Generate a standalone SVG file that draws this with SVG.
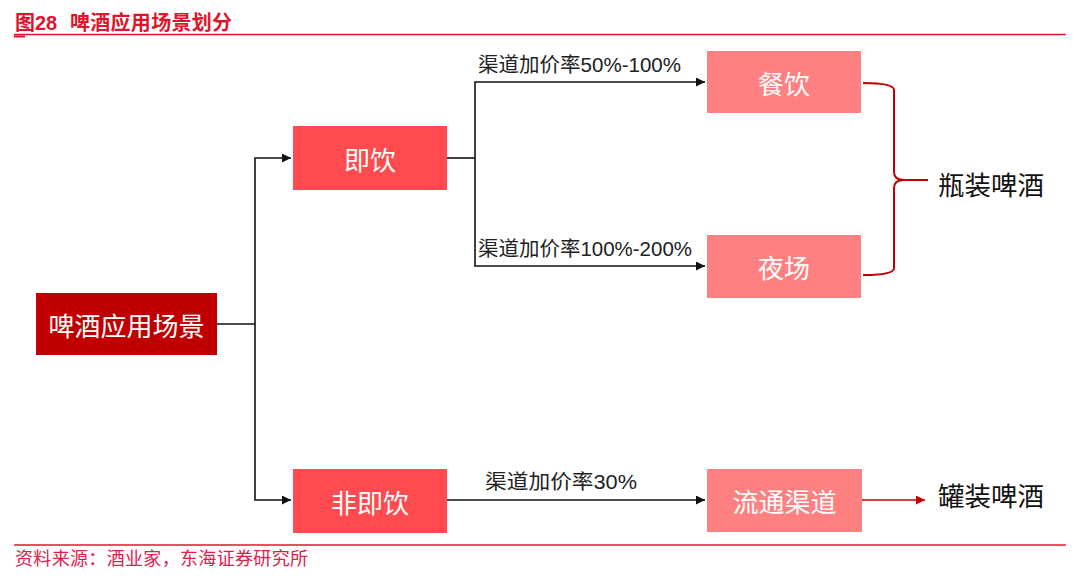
<svg xmlns="http://www.w3.org/2000/svg" width="1080" height="581" viewBox="0 0 1080 581">
<style>
.cjk{font-family:"Noto Sans CJK SC","Noto Sans",sans-serif}
.mix{font-family:"Liberation Sans","Noto Sans CJK SC",sans-serif}
.nt{font-size:26px;fill:#fff;text-anchor:middle;dominant-baseline:central}
.lbl{font-size:20px;fill:#222}
.out{font-size:26.5px;fill:#111}
.ln{stroke:#111;stroke-width:1.6;fill:none}
</style>
<defs>
<marker id="ab" viewBox="0 0 10 10" refX="10" refY="5" markerWidth="9" markerHeight="9" markerUnits="userSpaceOnUse" orient="auto"><path d="M0,0 L10,5 L0,10 Z" fill="#111"/></marker>
<marker id="ar" viewBox="0 0 10 10" refX="10" refY="5" markerWidth="9" markerHeight="9" markerUnits="userSpaceOnUse" orient="auto"><path d="M0,0 L10,5 L0,10 Z" fill="#C00000"/></marker>
</defs>
<rect width="1080" height="581" fill="#fff"/>
<g id="header">
<text x="15" y="30" class="mix" font-size="20" font-weight="bold" fill="#E0142D">图28</text>
<text x="70" y="30" class="cjk" font-size="20" font-weight="bold" fill="#E0142D" textLength="162">啤酒应用场景划分</text>
<line x1="14" y1="34.5" x2="1066" y2="34.5" stroke="#E0142D" stroke-width="1.5"/>
<line x1="14" y1="36.5" x2="25" y2="36.5" stroke="#E0142D" stroke-width="2"/>
</g>
<g id="connectors">
<polyline class="ln" points="217,324 255,324"/>
<polyline class="ln" points="255,324 255,158 291,158" marker-end="url(#ab)"/>
<polyline class="ln" points="255,324 255,500 291,500" marker-end="url(#ab)"/>
<polyline class="ln" points="447,158 475,158"/>
<polyline class="ln" points="475,158 475,82 705,82" marker-end="url(#ab)"/>
<polyline class="ln" points="475,158 475,266 705,266" marker-end="url(#ab)"/>
<polyline class="ln" points="447,500 705,500" marker-end="url(#ab)"/>
<polyline points="862,500 925,500" stroke="#C00000" stroke-width="1.6" fill="none" marker-end="url(#ar)"/>
<path d="M863,83 Q894,83 894,90 L894,172 Q894,180 904,180 L928,180 M904,180 Q894,180 894,188 L894,268 Q894,275 863,275" stroke="#C00000" stroke-width="2" fill="none"/>
<text x="478" y="72" class="mix lbl" textLength="203" lengthAdjust="spacingAndGlyphs">渠道加价率50%-100%</text>
<text x="478" y="256" class="mix lbl" textLength="214" lengthAdjust="spacingAndGlyphs">渠道加价率100%-200%</text>
<text x="485" y="489" class="mix lbl" textLength="152" lengthAdjust="spacingAndGlyphs">渠道加价率30%</text>
</g>
<g id="n-root"><rect x="36" y="293" width="181" height="62" fill="#C00000"/><text x="126.5" y="324" class="cjk nt">啤酒应用场景</text></g>
<g id="n-jiyin"><rect x="293" y="126" width="154" height="64" fill="#FF4B4F"/><text x="370" y="158" class="cjk nt">即饮</text></g>
<g id="n-feijiyin"><rect x="293" y="469" width="154" height="64" fill="#FF4B4F"/><text x="370" y="501" class="cjk nt">非即饮</text></g>
<g id="n-canyin"><rect x="707" y="51" width="154" height="62" fill="#FF8080"/><text x="784" y="82" class="cjk nt">餐饮</text></g>
<g id="n-yechang"><rect x="707" y="235" width="154" height="63" fill="#FF8080"/><text x="784" y="266.5" class="cjk nt">夜场</text></g>
<g id="n-liutong"><rect x="707" y="469" width="155" height="63" fill="#FF8080"/><text x="784.5" y="500.5" class="cjk nt">流通渠道</text></g>
<g id="n-pingzhuang"><text x="938" y="195" class="cjk out">瓶装啤酒</text></g>
<g id="n-guanzhuang"><text x="938" y="506" class="cjk out">罐装啤酒</text></g>
<g id="footer">
<line x1="14" y1="545" x2="1066" y2="545" stroke="#E0142D" stroke-width="1.5"/>
<text x="15" y="565" class="cjk" font-size="18" fill="#E0204A" textLength="293">资料来源：酒业家，东海证券研究所</text>
</g>
</svg>
